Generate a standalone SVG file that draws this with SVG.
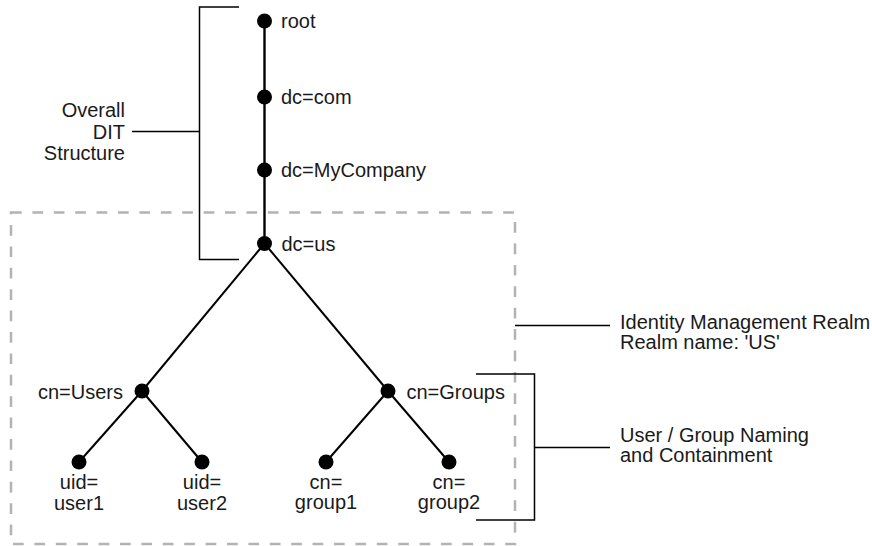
<svg xmlns="http://www.w3.org/2000/svg" width="872" height="546" viewBox="0 0 872 546">
<style>
text{font-family:"Liberation Sans",Arial,Helvetica,sans-serif;font-size:20px;fill:#1a1a1a}
.m{text-anchor:middle}
.e{text-anchor:end}
.edge{stroke:#000;stroke-width:2;fill:none}
.br{stroke:#000;stroke-width:1.5;fill:none}
.dot{fill:#000}
.realm{stroke:#b3b3b3;stroke-width:2.5;fill:none;stroke-dasharray:10.7 10.7}
</style>
<rect id="realm-box" class="realm" x="11" y="212.5" width="504" height="331.5"/>
<g id="connectors">
<line class="edge" x1="264.5" y1="21" x2="264.5" y2="243.5" style="stroke-width:2.4"/>
<line class="edge" x1="264.5" y1="243.5" x2="142" y2="391"/>
<line class="edge" x1="264.5" y1="243.5" x2="388" y2="391"/>
<line class="edge" x1="142" y1="391" x2="79" y2="462"/>
<line class="edge" x1="142" y1="391" x2="202" y2="462"/>
<line class="edge" x1="388" y1="391" x2="326" y2="462"/>
<line class="edge" x1="388" y1="391" x2="449" y2="462"/>
</g>
<g id="node-root"><circle class="dot" cx="264.5" cy="21" r="7.5"/><text x="281" y="28.3">root</text></g>
<g id="node-dc-com"><circle class="dot" cx="264.5" cy="97" r="7.5"/><text x="281" y="104">dc=com</text></g>
<g id="node-dc-mycompany"><circle class="dot" cx="264.5" cy="170" r="7.5"/><text x="281" y="177">dc=MyCompany</text></g>
<g id="node-dc-us"><circle class="dot" cx="264.5" cy="243.5" r="7.5"/><text x="281.5" y="250.5">dc=us</text></g>
<g id="node-cn-users"><circle class="dot" cx="142" cy="391" r="7.5"/><text class="e" x="123" y="398.5">cn=Users</text></g>
<g id="node-cn-groups"><circle class="dot" cx="388" cy="391" r="7.5"/><text x="406.5" y="398.5">cn=Groups</text></g>
<g id="node-user1"><circle class="dot" cx="79" cy="462" r="7.5"/><text class="m" x="79" y="488.5">uid=</text><text class="m" x="79" y="510">user1</text></g>
<g id="node-user2"><circle class="dot" cx="202" cy="462" r="7.5"/><text class="m" x="202" y="488.5">uid=</text><text class="m" x="202" y="510">user2</text></g>
<g id="node-group1"><circle class="dot" cx="326" cy="462" r="7.5"/><text class="m" x="326" y="488.5">cn=</text><text class="m" x="326" y="508.5">group1</text></g>
<g id="node-group2"><circle class="dot" cx="449" cy="462" r="7.5"/><text class="m" x="449" y="488.5">cn=</text><text class="m" x="449" y="508.5">group2</text></g>
<g id="label-dit">
<path class="br" d="M239 7 H199.5 V259.5 H239 M199.5 131.5 H132"/>
<text class="e" x="125" y="116.7">Overall</text>
<text class="e" x="125" y="138.5">DIT</text>
<text class="e" x="125" y="160">Structure</text>
</g>
<g id="label-realm">
<path class="br" d="M515 325.5 H610"/>
<text x="620" y="328.5">Identity Management Realm</text>
<text x="620" y="348.5">Realm name: 'US'</text>
</g>
<g id="label-naming">
<path class="br" d="M476 374 H534.5 V520 H476 M534.5 447.5 H610"/>
<text x="620" y="441.7">User / Group Naming</text>
<text x="620" y="461.7">and Containment</text>
</g>
</svg>
